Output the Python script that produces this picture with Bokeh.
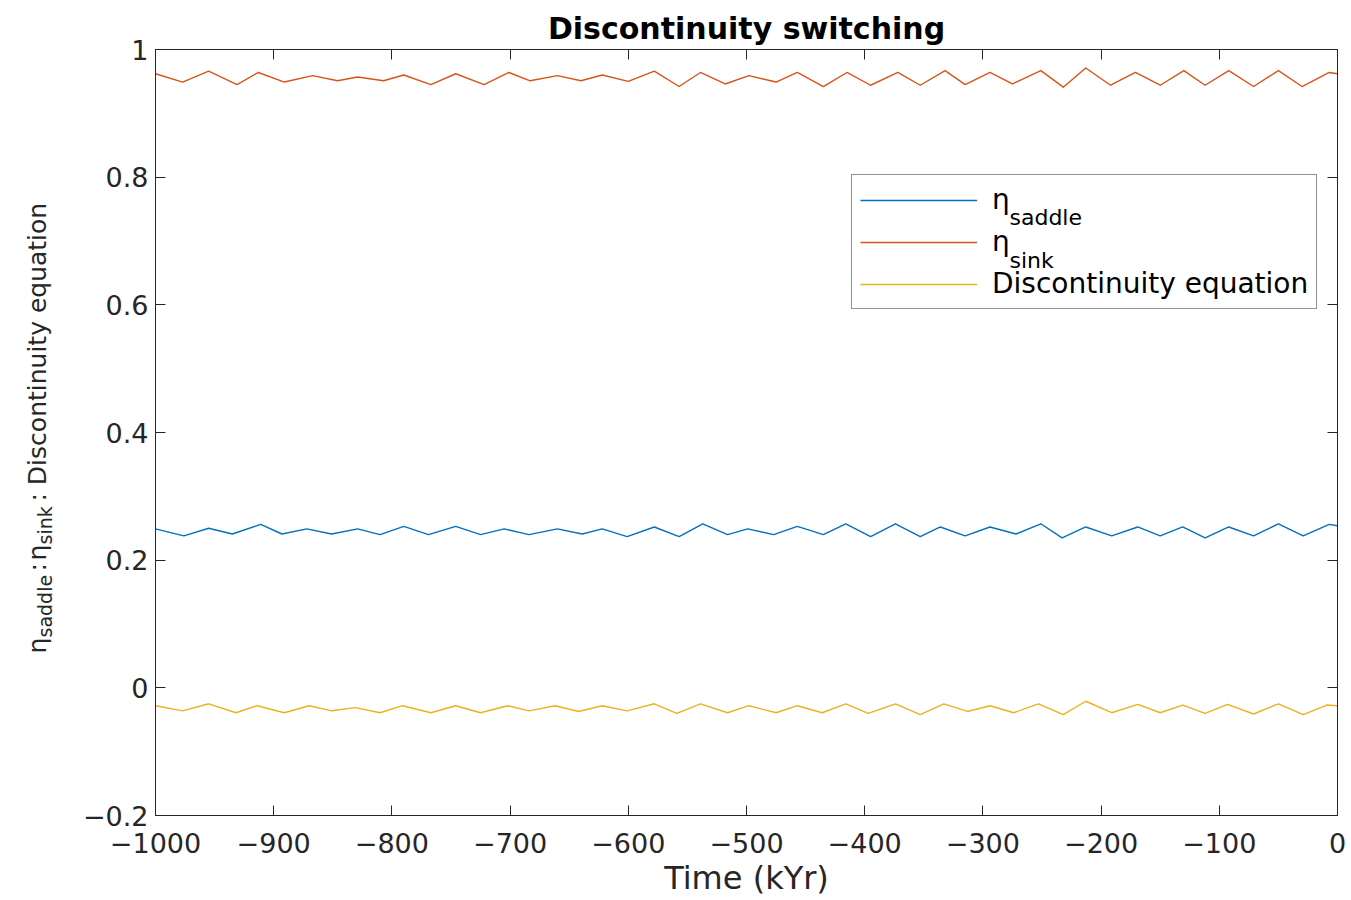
from bokeh.plotting import figure
from bokeh.layouts import row
from bokeh.models import Range1d, LinearAxis, FixedTicker, Legend, LegendItem
from bokeh.core.properties import value
from bokeh.embed import file_html
from bokeh.resources import INLINE

# ---- data (time in kYr) ----
time_saddle = [-1000, -976, -955, -935, -911, -893, -872, -851, -829, -810, -790, -769, -746, -725, -705,
               -684, -660, -639, -622, -601, -578, -557, -537, -516, -499, -477, -457, -435, -416, -395,
               -374, -353, -336, -315, -294, -272, -251, -233, -213, -191, -169, -150, -131, -112, -92,
               -71, -50, -29, -7, 0]
eta_saddle = [0.249, 0.238, 0.250, 0.241, 0.256, 0.241, 0.249, 0.241, 0.249, 0.240, 0.253, 0.240, 0.253,
              0.240, 0.249, 0.240, 0.249, 0.241, 0.249, 0.237, 0.252, 0.237, 0.257, 0.240, 0.249, 0.240,
              0.253, 0.240, 0.257, 0.237, 0.257, 0.237, 0.252, 0.238, 0.252, 0.241, 0.257, 0.235, 0.252,
              0.238, 0.252, 0.238, 0.252, 0.235, 0.252, 0.238, 0.257, 0.238, 0.256, 0.254]

time_sink = [-1000, -977, -955, -931, -913, -891, -867, -846, -829, -807, -790, -767, -746, -722, -701,
             -683, -660, -640, -622, -600, -578, -557, -539, -518, -498, -475, -457, -435, -415, -395,
             -372, -353, -332, -315, -294, -275, -251, -232, -213, -192, -171, -150, -130, -112, -92,
             -71, -50, -30, -7, 0]
eta_sink = [0.962, 0.949, 0.966, 0.945, 0.964, 0.949, 0.959, 0.951, 0.957, 0.951, 0.960, 0.945, 0.962,
            0.945, 0.964, 0.951, 0.959, 0.951, 0.960, 0.950, 0.966, 0.942, 0.964, 0.946, 0.959, 0.949,
            0.964, 0.942, 0.964, 0.944, 0.964, 0.944, 0.967, 0.945, 0.964, 0.946, 0.967, 0.941, 0.971,
            0.944, 0.964, 0.944, 0.967, 0.944, 0.967, 0.942, 0.967, 0.942, 0.964, 0.962]

time_disc = [-1000, -977, -955, -932, -914, -891, -870, -851, -831, -810, -791, -767, -746, -725, -702,
             -684, -662, -642, -622, -601, -578, -559, -539, -516, -498, -475, -457, -436, -416, -397,
             -374, -353, -333, -313, -294, -274, -253, -232, -213, -191, -169, -150, -131, -112, -93,
             -71, -50, -29, -9, 0]
disc_eq = [-0.028, -0.036, -0.025, -0.039, -0.028, -0.039, -0.028, -0.036, -0.031, -0.039, -0.028, -0.039,
           -0.028, -0.039, -0.028, -0.036, -0.028, -0.037, -0.028, -0.036, -0.025, -0.040, -0.025, -0.039,
           -0.028, -0.039, -0.028, -0.039, -0.025, -0.040, -0.025, -0.042, -0.025, -0.037, -0.028, -0.039,
           -0.025, -0.042, -0.021, -0.039, -0.026, -0.039, -0.027, -0.040, -0.026, -0.041, -0.025, -0.042,
           -0.027, -0.028]

x_ticks = [-1000, -900, -800, -700, -600, -500, -400, -300, -200, -100, 0]
x_tick_labels = ["−1000", "−900", "−800", "−700", "−600", "−500", "−400", "−300", "−200", "−100", "0"]
y_ticks = [-0.2, 0.0, 0.2, 0.4, 0.6, 0.8, 1.0]
y_tick_labels = ["−0.2", "0", "0.2", "0.4", "0.6", "0.8", "1"]

title_text = "Discontinuity switching"
x_label = "Time (kYr)"

# ---- styles ----
FONT = "DejaVu Sans"
AXIS_COLOR = "#262626"
C_SADDLE = "#0072BD"
C_SINK = "#D95319"
C_DISC = "#EDB120"
TICK_FS = "27px"

W_TOTAL, H_TOTAL = 1351, 900
W_LABEL = 75            # left strip holding the rotated y-axis label
FRAME_L, FRAME_R, FRAME_T, FRAME_B = 155, 1337, 49, 815   # frame edges in page pixels
X0, X1, Y0, Y1 = -1000, 0, -0.2, 1.0

p = figure(width=W_TOTAL - W_LABEL, height=H_TOTAL, output_backend="svg", toolbar_location=None,
           x_range=Range1d(X0, X1), y_range=Range1d(Y0, Y1),
           min_border_left=FRAME_L - W_LABEL, min_border_right=W_TOTAL - FRAME_R,
           min_border_top=FRAME_T, min_border_bottom=H_TOTAL - FRAME_B,
           title=title_text, background_fill_color="white", border_fill_color="white")

p.xgrid.visible = False
p.ygrid.visible = False
p.outline_line_color = AXIS_COLOR
p.outline_line_width = 1

p.title.text_font = FONT
p.title.text_font_style = "bold"
p.title.text_font_size = "30px"
p.title.text_color = "black"
p.title.align = "center"
p.title.standoff = 8


def style_axis(ax, ticks, labels, show):
    ax.ticker = FixedTicker(ticks=ticks)
    ax.axis_line_color = AXIS_COLOR
    ax.axis_line_width = 1
    ax.major_tick_line_color = AXIS_COLOR
    ax.major_tick_line_width = 1
    ax.major_tick_in = 10
    ax.major_tick_out = 0
    ax.minor_tick_line_color = None
    ax.major_label_text_font = FONT
    ax.major_label_text_color = AXIS_COLOR
    if show:
        ax.major_label_overrides = {t: l for t, l in zip(ticks, labels)}
        ax.major_label_text_font_size = TICK_FS
    else:
        ax.major_label_overrides = {t: "" for t in ticks}
        ax.major_label_text_font_size = "0px"
        ax.major_label_standoff = 0


xb = p.xaxis[0]
style_axis(xb, x_ticks, x_tick_labels, True)
xb.major_label_standoff = 17
xb.axis_label = x_label
xb.axis_label_text_font = FONT
xb.axis_label_text_font_style = "normal"
xb.axis_label_text_font_size = "32px"
xb.axis_label_text_color = AXIS_COLOR
xb.axis_label_standoff = 3

yl = p.yaxis[0]
style_axis(yl, y_ticks, y_tick_labels, True)
yl.major_label_standoff = 7

xt = LinearAxis()
style_axis(xt, x_ticks, x_tick_labels, False)
p.add_layout(xt, "above")
yr = LinearAxis()
style_axis(yr, y_ticks, y_tick_labels, False)
p.add_layout(yr, "right")

# ---- lines ----
r_saddle = p.line(time_saddle, eta_saddle, line_color=C_SADDLE, line_width=1.4, line_join="round")
r_sink = p.line(time_sink, eta_sink, line_color=C_SINK, line_width=1.4, line_join="round")
r_disc = p.line(time_disc, disc_eq, line_color=C_DISC, line_width=1.4, line_join="round")

# ---- legend ----
legend = Legend(items=[LegendItem(label="η", renderers=[r_saddle]),
                       LegendItem(label="η", renderers=[r_sink]),
                       LegendItem(label="Discontinuity equation", renderers=[r_disc])],
                location=(696, 506), orientation="vertical",
                label_text_font=FONT, label_text_font_size="28px", label_text_color="black",
                glyph_width=117, glyph_height=20, padding=8, spacing=9, label_standoff=15,
                margin=0, border_line_color=AXIS_COLOR, border_line_width=1,
                background_fill_color=None)
p.add_layout(legend)


# legend subscripts: page-pixel anchor converted to the plot's own scale
def px_to_data(px, py):
    dx = X0 + (px - FRAME_L) * (X1 - X0) / (FRAME_R - FRAME_L)
    dy = Y1 - (py - FRAME_T) * (Y1 - Y0) / (FRAME_B - FRAME_T)
    return dx, dy


leg_sub_text = ["saddle", "sink"]
leg_sub_px = [(1009, 217), (1009, 260)]
sx, sy = zip(*[px_to_data(a, b) for a, b in leg_sub_px])
p.text(x=list(sx), y=list(sy), text=leg_sub_text, text_font=value(FONT), text_font_size=value("22px"),
       text_color="black", text_align="left", text_baseline="alphabetic")

# ---- rotated y-axis label in its own strip (page-pixel coordinates, y downwards) ----
q = figure(width=W_LABEL, height=H_TOTAL, output_backend="svg", toolbar_location=None,
           x_range=Range1d(0, W_LABEL), y_range=Range1d(FRAME_B, FRAME_T),
           x_axis_type=None, y_axis_type=None,
           min_border_left=0, min_border_right=0,
           min_border_top=FRAME_T, min_border_bottom=H_TOTAL - FRAME_B,
           background_fill_color="white", border_fill_color="white")
q.outline_line_color = None
q.xgrid.visible = False
q.ygrid.visible = False

ylabel_main = ["η", ":", "η", ": Discontinuity equation"]
ylabel_main_px = [(37, 653), (37, 571), (37, 560), (37, 501)]
ylabel_sub = ["saddle", "sink"]
ylabel_sub_px = [(44, 637), (44, 544)]

q.text(x=[a for a, b in ylabel_main_px], y=[b for a, b in ylabel_main_px], text=ylabel_main,
       angle=1.5707963, text_font=value(FONT), text_font_size=value("25px"), text_color=AXIS_COLOR,
       text_align="left", text_baseline="alphabetic")
q.text(x=[a for a, b in ylabel_sub_px], y=[b for a, b in ylabel_sub_px], text=ylabel_sub,
       angle=1.5707963, text_font=value(FONT), text_font_size=value("19px"), text_color=AXIS_COLOR,
       text_align="left", text_baseline="alphabetic")

layout = row(q, p, spacing=0)
open("out.html", "w").write(file_html(layout, INLINE))
